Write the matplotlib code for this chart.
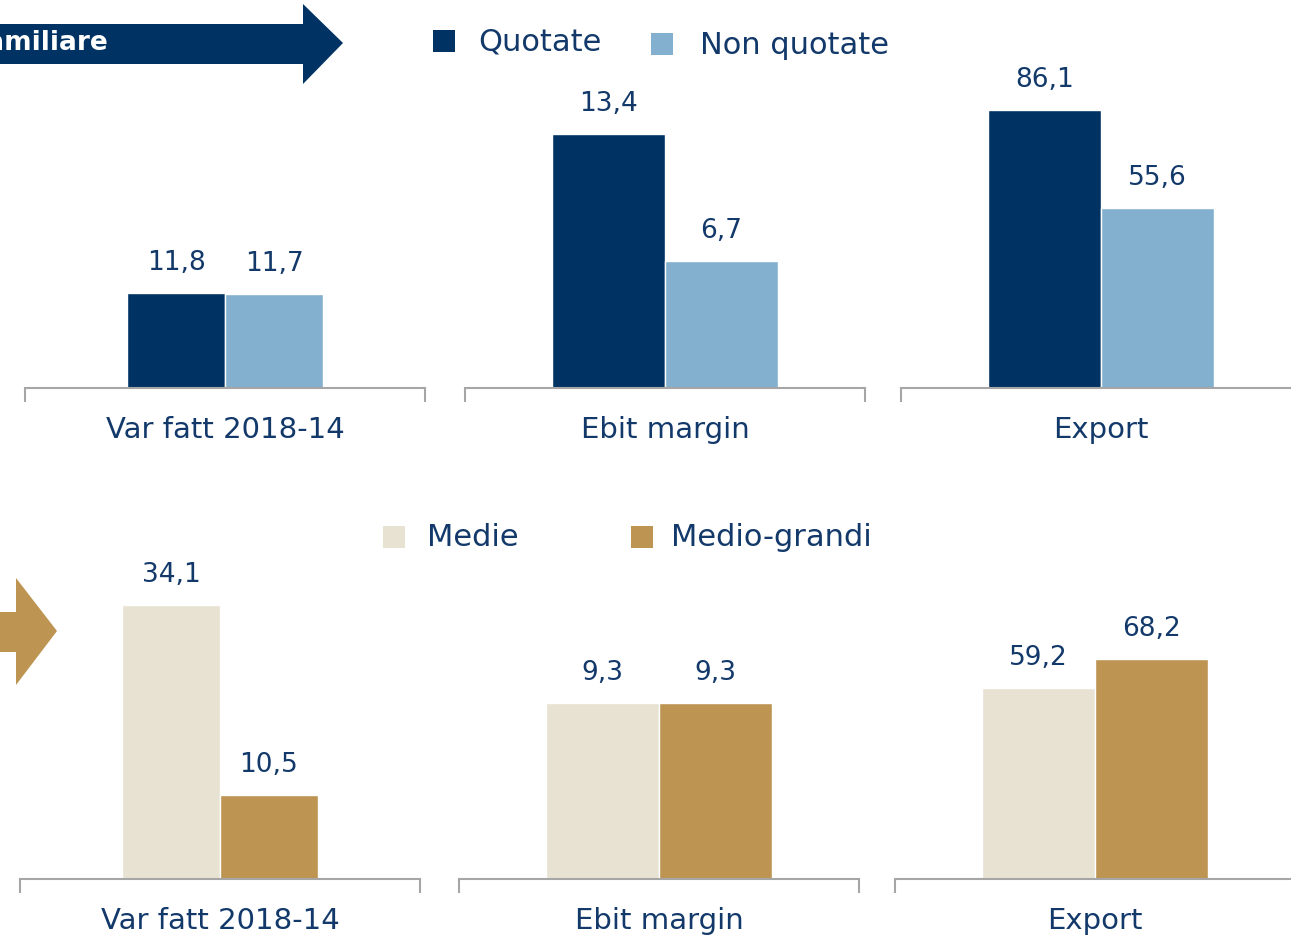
import matplotlib.pyplot as plt
from matplotlib.patches import Polygon, Rectangle

# Data
categories = ['Var fatt 2018-14', 'Ebit margin', 'Export']
top_series = ['Quotate', 'Non quotate']
quotate = [11.8, 13.4, 86.1]
non_quotate = [11.7, 6.7, 55.6]
bottom_series = ['Medie', 'Medio-grandi']
medie = [34.1, 9.3, 59.2]
medio_grandi = [10.5, 9.3, 68.2]
banner_text = 'Impresa familiare'

# Styles
W, H = 1291, 939
navy = '#003363'
light_blue = '#82B0CE'
beige = '#E8E2D2'
gold = '#BD9452'
text_col = '#12396A'
axis_col = '#A6A6A6'
fs = 19

ylims = [35.8, 15.2, 89.2]
bar_w = [0.98, 1.13, 1.13]
top_lefts = [25, 465, 901]
bot_lefts = [20, 459, 895]


def fx(px):
    return px / W


def fy(py):
    return 1 - py / H


def fmt(v):
    return ('%.1f' % v).replace('.', ',')


fig = plt.figure(figsize=(W / 100, H / 100), dpi=100)
plt.rcParams['font.family'] = ['DejaVu Sans']


def panel(left, base, cat, vals, cols, ylim, w):
    ax = fig.add_axes([fx(left), fy(base), fx(400), 288 / H])
    ax.bar([-w, 0], vals, width=w, align='edge', color=cols,
           edgecolor='white', linewidth=1)
    ax.set_xlim(-2, 2)
    ax.set_ylim(0, ylim)
    for s in ['left', 'right', 'top']:
        ax.spines[s].set_visible(False)
    ax.spines['bottom'].set_color(axis_col)
    ax.spines['bottom'].set_linewidth(1.5)
    ax.set_yticks([])
    ax.set_xticks([-2, 2])
    ax.set_xticklabels(['', ''])
    ax.tick_params(axis='x', length=10, width=1.5, color=axis_col)
    for x, v in zip([-w / 2, w / 2], vals):
        ax.annotate(fmt(v), (x, v), xytext=(0, 30), textcoords='offset pixels',
                    ha='center', va='center', fontsize=fs, color=text_col)
    ax.annotate(cat, (0.5, 0), xycoords='axes fraction', xytext=(0, -42),
                textcoords='offset pixels', ha='center', va='center',
                fontsize=21, color=text_col)


for i in range(3):
    panel(top_lefts[i], 388, categories[i], [quotate[i], non_quotate[i]],
          [navy, light_blue], ylims[i], bar_w[i])
    panel(bot_lefts[i], 879, categories[i], [medie[i], medio_grandi[i]],
          [beige, gold], ylims[i], bar_w[i])


# arrows
def poly(pts, col):
    fig.patches.append(Polygon([(fx(x), fy(y)) for x, y in pts], closed=True,
                               transform=fig.transFigure, color=col, lw=0))


poly([(-5, 24), (303, 24), (303, 4), (343, 43), (303, 84), (303, 64), (-5, 64)], navy)
fig.text(fx(108), fy(43), banner_text, ha='right', va='center', color='white',
         fontsize=fs, fontweight='bold')
poly([(-5, 612), (16, 612), (16, 578), (57, 631), (16, 685), (16, 652), (-5, 652)], gold)


# legends
def legend_item(x, y, col, label, tx):
    fig.patches.append(Rectangle((fx(x), fy(y + 22)), fx(22), 22 / H,
                                 transform=fig.transFigure, color=col, lw=0))
    fig.text(fx(tx), fy(y + 12), label, ha='left', va='center',
             fontsize=22, color=text_col)


legend_item(433, 30, navy, top_series[0], 478)
legend_item(651, 33, light_blue, top_series[1], 700)
legend_item(383, 526, beige, bottom_series[0], 427)
legend_item(631, 526, gold, bottom_series[1], 671)

fig.savefig('out.png', dpi=100)
